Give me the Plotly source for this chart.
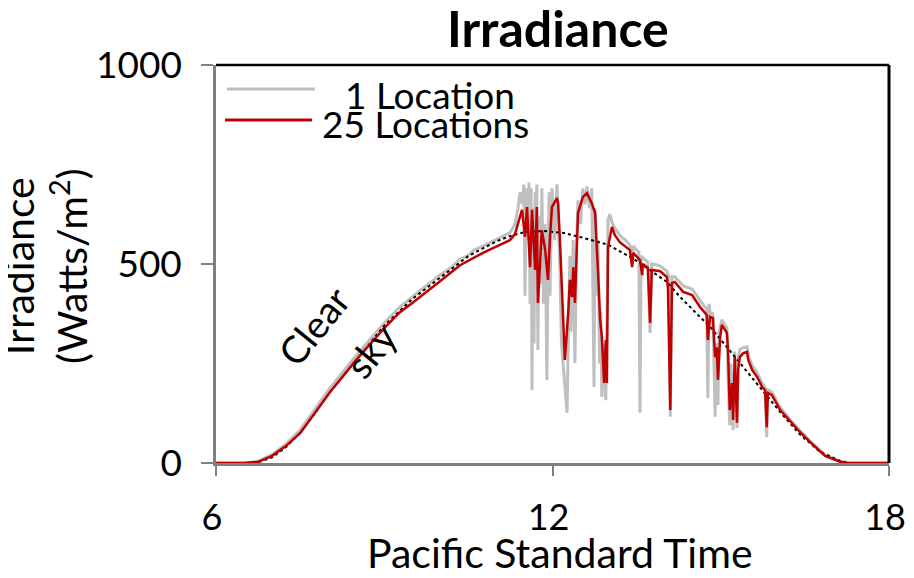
import plotly.graph_objects as go

# ---- data ----
red_t = [6.0, 6.5, 6.75, 7.0, 7.25, 7.5, 7.75, 8.03, 8.5, 9.0, 9.28, 9.5, 10.0, 10.35, 10.76, 11.0, 11.24, 11.33,
         11.385, 11.456, 11.51, 11.545, 11.60, 11.635, 11.69, 11.72, 11.74, 11.81, 11.87, 11.92, 11.955, 11.99,
         12.08, 12.10, 12.13, 12.19, 12.22, 12.28, 12.31, 12.35, 12.37, 12.40, 12.455, 12.54, 12.615, 12.70,
         12.76, 12.81, 12.85, 12.88, 12.92, 12.95, 12.97, 12.99, 13.06, 13.11, 13.20, 13.38, 13.42, 13.44,
         13.56, 13.60, 13.61, 13.70, 13.74, 13.77, 13.92, 14.04, 14.06, 14.10, 14.13, 14.18, 14.33, 14.49,
         14.63, 14.75, 14.77, 14.81, 14.86, 14.90, 14.93, 14.95, 14.99, 15.02, 15.11, 15.13, 15.16, 15.20,
         15.22, 15.25, 15.29, 15.31, 15.34, 15.40, 15.47, 15.49, 15.56, 15.65, 15.74, 15.79, 15.82, 15.84,
         15.91, 16.06, 16.23, 16.41, 16.59, 16.86, 17.13, 17.25, 18.0]
red_v = [0, 0, 3, 18, 43, 75, 123, 178, 259, 339, 379, 402, 457, 497, 528, 545, 560, 575,
         603, 636, 568, 643, 492, 636, 485, 643, 402, 585, 535, 460, 568, 643,
         666, 653, 568, 359, 259, 377, 460, 417, 492, 402, 628, 668, 678, 653,
         628, 485, 359, 317, 201, 309, 201, 543, 593, 573, 555, 535, 492, 528,
         510, 472, 500, 490, 352, 485, 482, 467, 435, 133, 452, 455, 430, 422,
         392, 372, 309, 367, 364, 266, 291, 209, 317, 347, 327, 284, 133, 201,
         108, 266, 101, 234, 266, 276, 279, 259, 234, 216, 191, 183, 90, 176,
         171, 133, 106, 78, 53, 18, 3, 0, 0]

gray_t = [6.0, 6.5, 6.75, 7.0, 7.25, 7.5, 7.75, 8.03, 8.5, 9.0, 9.28, 9.5, 9.7, 9.9, 10.0, 10.2, 10.35, 10.5,
          10.6, 10.76, 10.9, 11.0, 11.1, 11.24, 11.33, 11.385, 11.42, 11.46, 11.49, 11.51, 11.53, 11.56, 11.58,
          11.60, 11.62, 11.635, 11.65, 11.67, 11.69, 11.71, 11.72, 11.74, 11.76, 11.79, 11.81, 11.84, 11.87,
          11.90, 11.92, 11.94, 11.955, 11.99, 12.04, 12.08, 12.10, 12.13, 12.16, 12.19, 12.22, 12.26, 12.28,
          12.31, 12.33, 12.35, 12.37, 12.40, 12.43, 12.455, 12.50, 12.54, 12.58, 12.615, 12.66, 12.70, 12.74,
          12.76, 12.79, 12.81, 12.84, 12.86, 12.88, 12.91, 12.95, 12.97, 12.99, 13.02, 13.06, 13.11, 13.20,
          13.30, 13.38, 13.42, 13.44, 13.50, 13.54, 13.56, 13.58, 13.61, 13.70, 13.74, 13.77, 13.85, 13.92,
          14.04, 14.07, 14.10, 14.13, 14.18, 14.33, 14.49, 14.63, 14.70, 14.75, 14.77, 14.79, 14.81, 14.86,
          14.88, 14.90, 14.92, 14.95, 14.97, 15.02, 15.08, 15.11, 15.13, 15.16, 15.18, 15.20, 15.22, 15.25,
          15.27, 15.29, 15.31, 15.34, 15.40, 15.47, 15.49, 15.56, 15.65, 15.74, 15.79, 15.82, 15.84, 15.91,
          16.06, 16.23, 16.41, 16.59, 16.86, 17.13, 17.25, 18.0]
gray_v = [0, 0, 4, 21, 48, 83, 132, 188, 270, 352, 392, 418, 440, 462, 473, 492, 512, 522,
          535, 545, 555, 562, 568, 578, 600, 640, 680, 650, 700, 420, 690, 560, 705,
          400, 690, 183, 640, 300, 680, 550, 700, 284, 620, 450, 690, 400, 600,
          208, 500, 680, 420, 690, 560, 700, 620, 500, 300, 250, 180, 126, 300,
          520, 330, 470, 560, 251, 560, 660, 600, 690, 650, 695, 640, 690, 191,
          640, 420, 560, 250, 380, 166, 300, 158, 350, 610, 625, 605, 590, 572,
          560, 548, 500, 545, 535, 530, 126, 520, 515, 505, 327, 500, 498, 495,
          482, 470, 116, 468, 468, 445, 437, 408, 395, 388, 163, 400, 378, 375,
          250, 116, 300, 146, 330, 360, 345, 340, 220, 95, 250, 140, 83, 280,
          150, 88, 260, 285, 290, 292, 270, 245, 226, 200, 190, 65, 184, 178,
          140, 110, 82, 56, 20, 4, 0, 0]

clear_t = [6.55, 6.75, 7.0, 7.25, 7.5, 7.75, 8.0, 8.5, 9.0, 9.5, 10.0, 10.5, 11.0, 11.24, 11.5, 11.85, 12.2,
           12.49, 13.0, 13.5, 14.04, 14.27, 14.63, 14.81, 15.0, 15.34, 15.70, 16.06, 16.41, 16.77, 17.13, 17.3]
clear_v = [0, 2, 14, 40, 76, 122, 172, 260, 345, 412, 466, 520, 557, 570, 580, 583, 578,
           568, 548, 508, 455, 418, 367, 342, 310, 251, 191, 128, 72, 28, 5, 0]

x_ticks = [6, 12, 18]
y_ticks = [0, 500, 1000]
series_names = ["1 Location", "25 Locations"]
series_colors = ["#BFBFBF", "#C00000"]

FONT = "Lato"

fig = go.Figure()
fig.add_trace(go.Scatter(x=gray_t, y=gray_v, mode="lines", name=series_names[0],
                         line=dict(color=series_colors[0], width=3), showlegend=False))
fig.add_trace(go.Scatter(x=clear_t, y=clear_v, mode="lines", name="Clear sky",
                         line=dict(color="black", width=2, dash="dot"), showlegend=False))
fig.add_trace(go.Scatter(x=red_t, y=red_v, mode="lines", name=series_names[1],
                         line=dict(color=series_colors[1], width=2.5), showlegend=False))

axis_common = dict(showline=True, linecolor="#808080", linewidth=2.5, ticks="outside",
                   tickcolor="#808080", tickwidth=2, showgrid=False, zeroline=False,
                   ticklabeloverflow="allow")

fig.update_xaxes(range=[6, 18], tickvals=x_ticks, ticklen=10, ticklabelstandoff=11, ticklabelshift=-4,
                 tickfont=dict(family=FONT, size=36, color="black"), **axis_common)
fig.update_yaxes(range=[0, 1000], tickvals=y_ticks, ticklen=12, ticklabelstandoff=12,
                 tickfont=dict(family=FONT, size=37, color="black"), **axis_common)

# top and right frame lines
fig.add_shape(type="line", xref="paper", yref="paper", x0=0, x1=1, y0=1, y1=1,
              line=dict(color="black", width=2.5))
fig.add_shape(type="line", xref="paper", yref="paper", x0=1, x1=1, y0=0, y1=1,
              line=dict(color="black", width=3))

# legend (drawn manually to match the long sample lines)
fig.add_shape(type="line", xref="paper", yref="paper", x0=0.0163, x1=0.147, y0=0.9397, y1=0.9397,
              line=dict(color=series_colors[0], width=3))
fig.add_shape(type="line", xref="paper", yref="paper", x0=0.0134, x1=0.1426, y0=0.8618, y1=0.8618,
              line=dict(color=series_colors[1], width=3))
fig.add_annotation(text=series_names[0], xref="paper", yref="paper", x=0.1887, y=0.925,
                   xanchor="left", yanchor="middle", showarrow=False,
                   font=dict(family=FONT, size=37, color="black"))
fig.add_annotation(text=series_names[1], xref="paper", yref="paper", x=0.1545, y=0.852,
                   xanchor="left", yanchor="middle", showarrow=False,
                   font=dict(family=FONT, size=37, color="black"))

# axis titles
fig.add_annotation(text="Irradiance<br>(Watts/m<sup>2</sup>)", xref="paper", yref="paper",
                   x=-0.254, y=0.495, textangle=-90, showarrow=False,
                   xanchor="center", yanchor="middle",
                   font=dict(family=FONT, size=41, color="black"))
fig.add_annotation(text="Pacific Standard Time", xref="paper", yref="paper",
                   x=0.511, y=-0.226, showarrow=False, xanchor="center", yanchor="middle",
                   font=dict(family=FONT, size=41, color="black"))

# clear sky label
fig.add_annotation(text="Clear", x=7.73, y=344, textangle=-51, showarrow=False,
                   font=dict(family=FONT, size=38, color="black"))
fig.add_annotation(text="sky", x=8.75, y=285, textangle=-51, showarrow=False,
                   font=dict(family=FONT, size=38, color="black"))

# the page body adds an 8 px offset; size and margins compensate so the plot sits as in the reference
fig.update_layout(
    width=906, height=562,
    margin=dict(l=208, r=25, t=57, b=107, autoexpand=False),
    paper_bgcolor="white", plot_bgcolor="white",
    title=dict(text="Irradiance", x=0.508, xref="paper", y=0.9609, yref="container",
               xanchor="center", yanchor="middle",
               font=dict(family=FONT, size=50, color="black", weight="bold")),
    showlegend=False,
)

fig.write_html("out.html")
